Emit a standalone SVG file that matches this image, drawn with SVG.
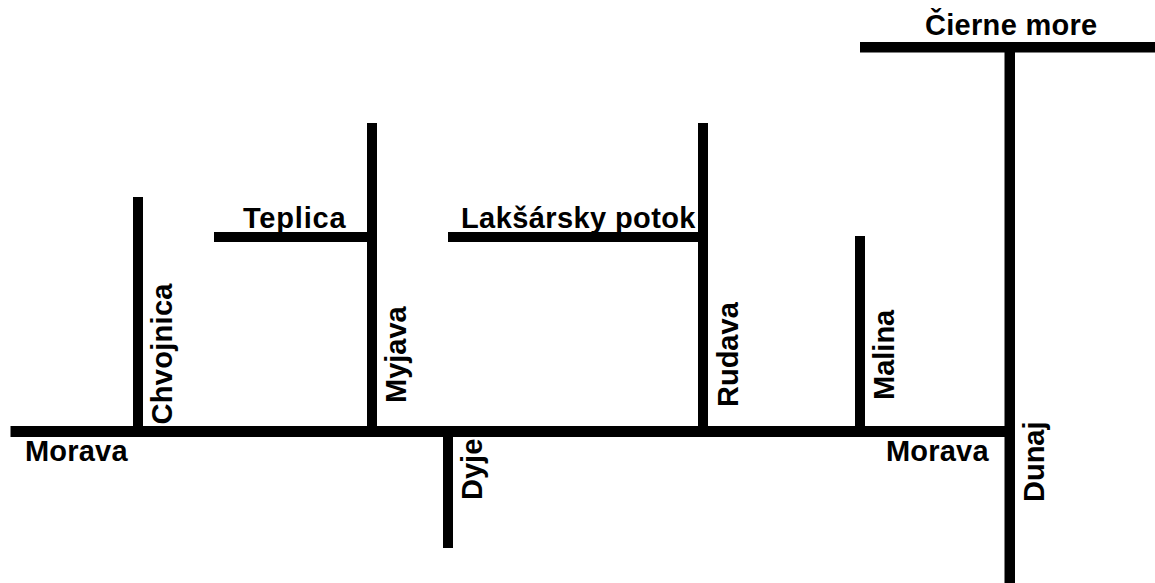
<svg xmlns="http://www.w3.org/2000/svg" width="1155" height="583" viewBox="0 0 1155 583">
<style>
.r{fill:#000;stroke:none}
text{font-family:"Liberation Sans",Arial,sans-serif;font-size:29px;font-weight:700;fill:#000}
.w{letter-spacing:.3px}
</style>
<rect width="1155" height="583" fill="#fff"/>
<g id="connectors">
<rect class="r" x="10.5" y="426" width="1000" height="11"/>
<rect class="r" x="860" y="42" width="295" height="10.5"/>
<rect class="r" x="1004.5" y="47" width="10.5" height="536"/>
<rect class="r" x="133" y="197" width="10" height="235"/>
<rect class="r" x="367" y="123" width="10" height="309"/>
<rect class="r" x="214" y="232" width="158" height="10"/>
<rect class="r" x="698" y="123" width="10" height="309"/>
<rect class="r" x="448" y="232" width="255" height="10"/>
<rect class="r" x="855" y="236" width="10" height="196"/>
<rect class="r" x="443" y="432" width="10" height="116"/>
</g>
<g id="labels">
<text class="w" x="925" y="35">Čierne more</text>
<text x="243" y="228" style="letter-spacing:.8px">Teplica</text>
<text class="w" x="461" y="228" style="letter-spacing:.4px">Lakšársky potok</text>
<text x="25" y="461" style="letter-spacing:.2px">Morava</text>
<text x="886" y="461" style="letter-spacing:.2px">Morava</text>
<text class="w" transform="translate(172 424.5) rotate(-90)">Chvojnica</text>
<text transform="translate(406 403) rotate(-90)">Myjava</text>
<text transform="translate(738 407) rotate(-90)">Rudava</text>
<text transform="translate(894 400) rotate(-90)">Malina</text>
<text transform="translate(482 500) rotate(-90)">Dyje</text>
<text transform="translate(1044 502) rotate(-90)">Dunaj</text>
</g>
</svg>
